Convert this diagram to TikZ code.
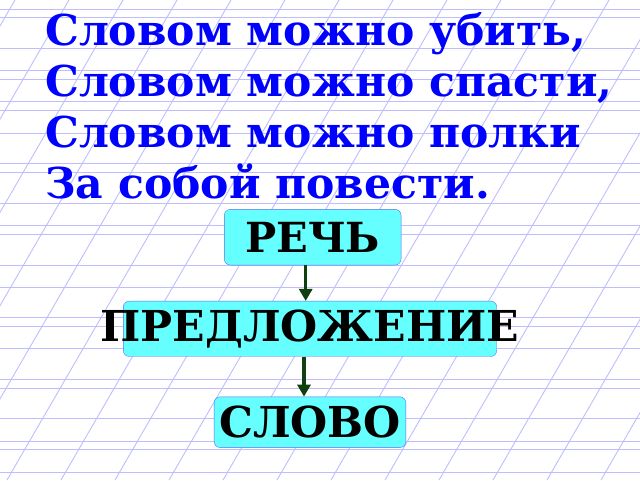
\documentclass[tikz,border=0pt]{standalone}
\usepackage{fontspec}
\setmainfont{DejaVu Serif}
\usetikzlibrary{arrows.meta, positioning}
\definecolor{linejka}{RGB}{190,190,255}
\definecolor{golub}{RGB}{102,255,255}
\definecolor{kontur}{RGB}{90,110,240}
\definecolor{zelen}{RGB}{16,64,16}
\newcommand{\stihfont}{\fontsize{42.5}{51}\selectfont\bfseries}
\newcommand{\ramkafont}[1]{\fontsize{#1}{#1}\selectfont\bfseries}

\begin{document}
\begin{tikzpicture}[
    x = 1pt, y = -1pt,
    ramka/.style = {rectangle, rounded corners=6pt, draw=kontur, fill=golub, inner sep=0pt},
    strelka/.style = {zelen, line width=3.2pt, -{Triangle[width=13pt,length=12pt]}},
    linia/.style = {linejka, line width=0.9pt},
    stih/.style = {anchor=base west, inner sep=0pt, text=blue, font=\stihfont}
    ]

  \useasboundingbox (0,0) rectangle (640,480);
  \fill[white] (0,0) rectangle (640,480);

  % lined paper
  \begin{scope}
    \clip (0,0) rectangle (640,480);
    \foreach \y in {9.3, 17.3, 48.3, 70.7, 79, 101.7, 110.7, 133.3, 163.3, 172.7, 203.3, 225.7, 234, 265, 287.7, 317.3, 326, 348.3, 379.3, 388, 418.7, 441.5, 449.7, 472.7}
      \draw[linia] (0,\y) -- (640,\y);
    \foreach \k in {0,...,17}
      \draw[linia] ({15+54*\k},0) -- ({15+54*\k-278},480);
  \end{scope}

  \node[stih] (s1) at (45,45) {Словом можно убить,};
  \node[stih] (s2) at (45,96) {Словом можно спасти,};
  \node[stih] (s3) at (45,147) {Словом можно полки};
  \node[stih] (s4) at (45,198) {За собой повести.};

  \node[ramka, minimum width=176.7pt, minimum height=55.7pt, font=\ramkafont{41.5}] (rech) at (312.7,237.2) {РЕЧЬ};
  \node[ramka, minimum height=55.3pt, font=\ramkafont{42.6}] (predl) [below=35.7pt of rech, xshift=-2.7pt] {\makebox[373.4pt]{ПРЕДЛОЖЕНИЕ}};
  \node[ramka, minimum width=191.7pt, minimum height=50.7pt, font=\ramkafont{42.6}] (slovo) [below=40pt of predl] {СЛОВО};

  \draw[strelka] ([xshift=-7pt]rech.south) -- ([xshift=-7pt]rech.south |- predl.north);
  \draw[strelka] ([xshift=-6pt]predl.south) -- ([xshift=-6pt]predl.south |- slovo.north);

\end{tikzpicture}
\end{document}
